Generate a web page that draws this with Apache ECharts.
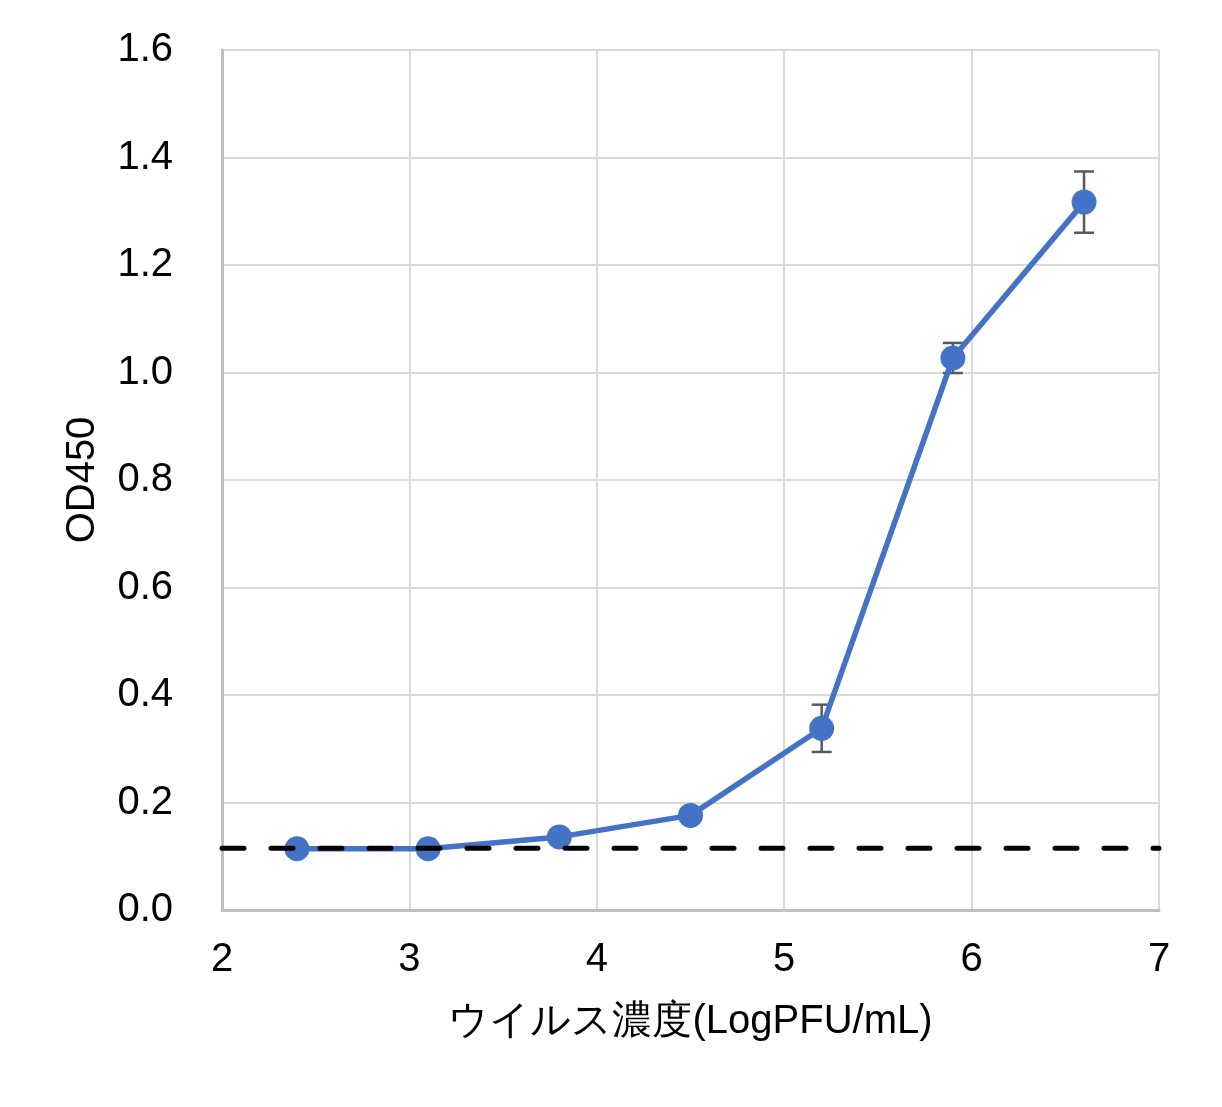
<!DOCTYPE html>
<html><head><meta charset="utf-8">
<script src="https://cdn.jsdelivr.net/npm/echarts@6/dist/echarts.min.js"></script>
<style>html,body{margin:0;padding:0;background:#fff}#c{width:1222px;height:1107px}</style>
</head><body><div id="c"></div>
<script>
const xValues = [2.4, 3.1, 3.8, 4.5, 5.2, 5.9, 6.6];
const odValues = [0.114, 0.114, 0.136, 0.176, 0.338, 1.027, 1.317];
const errValues = [0.004, 0.004, 0.006, 0.006, 0.044, 0.028, 0.057];
const cutoffX = [2, 7];
const cutoffY = 0.115;
const xTitle = 'ウイルス濃度(LogPFU/mL)';
const yTitle = 'OD450';

const font = '"Liberation Sans", Arial, sans-serif';
const chart = echarts.init(document.getElementById('c'), null, {renderer: 'canvas'});
const mainData = xValues.map((x, i) => [x, odValues[i]]);
const errData = xValues.map((x, i) => [x, odValues[i] - errValues[i], odValues[i] + errValues[i]]);
const cutData = cutoffX.map(x => [x, cutoffY]);

chart.setOption({
  animation: false,
  backgroundColor: '#fff',
  grid: {left: 222, right: 63, top: 50, bottom: 197, containLabel: false},
  xAxis: {
    type: 'value', min: 2, max: 7, interval: 1,
    name: xTitle, nameLocation: 'middle', nameGap: 92,
    nameTextStyle: {fontFamily: font, fontSize: 40, color: '#000'},
    axisLine: {show: true, lineStyle: {color: '#bfbfbf', width: 3}},
    axisTick: {show: false},
    axisLabel: {fontFamily: font, fontSize: 40, color: '#000', margin: 30},
    splitLine: {show: true, lineStyle: {color: '#d9d9d9', width: 2}}
  },
  yAxis: {
    type: 'value', min: 0, max: 1.6, interval: 0.2,
    name: yTitle, nameLocation: 'middle', nameGap: 119,
    nameTextStyle: {fontFamily: font, fontSize: 40, color: '#000'},
    axisLine: {show: true, lineStyle: {color: '#bfbfbf', width: 3}},
    axisTick: {show: false},
    axisLabel: {fontFamily: font, fontSize: 40, color: '#000', margin: 49,
      formatter: v => v.toFixed(1)},
    splitLine: {show: true, lineStyle: {color: '#d9d9d9', width: 2}}
  },
  series: [
    {
      type: 'custom', z: 2,
      renderItem: (params, api) => {
        const x = api.value(0);
        const lo = api.coord([x, api.value(1)]);
        const hi = api.coord([x, api.value(2)]);
        const hw = 10;
        const st = {stroke: '#595959', lineWidth: 2.5, fill: null};
        return {type: 'group', children: [
          {type: 'line', shape: {x1: lo[0], y1: lo[1], x2: hi[0], y2: hi[1]}, style: st},
          {type: 'line', shape: {x1: lo[0]-hw, y1: lo[1], x2: lo[0]+hw, y2: lo[1]}, style: st},
          {type: 'line', shape: {x1: hi[0]-hw, y1: hi[1], x2: hi[0]+hw, y2: hi[1]}, style: st}
        ]};
      },
      encode: {x: 0, y: [1, 2]},
      data: errData
    },
    {
      type: 'line', z: 3,
      data: mainData,
      symbol: 'circle', symbolSize: 25,
      itemStyle: {color: '#4472C4'},
      lineStyle: {color: '#4472C4', width: 5.5}
    },
    {
      type: 'line', z: 4,
      data: cutData,
      symbol: 'none', clip: false,
      lineStyle: {color: '#000', width: 5, type: [22, 27], cap: 'round'}
    }
  ]
});
</script></body></html>
